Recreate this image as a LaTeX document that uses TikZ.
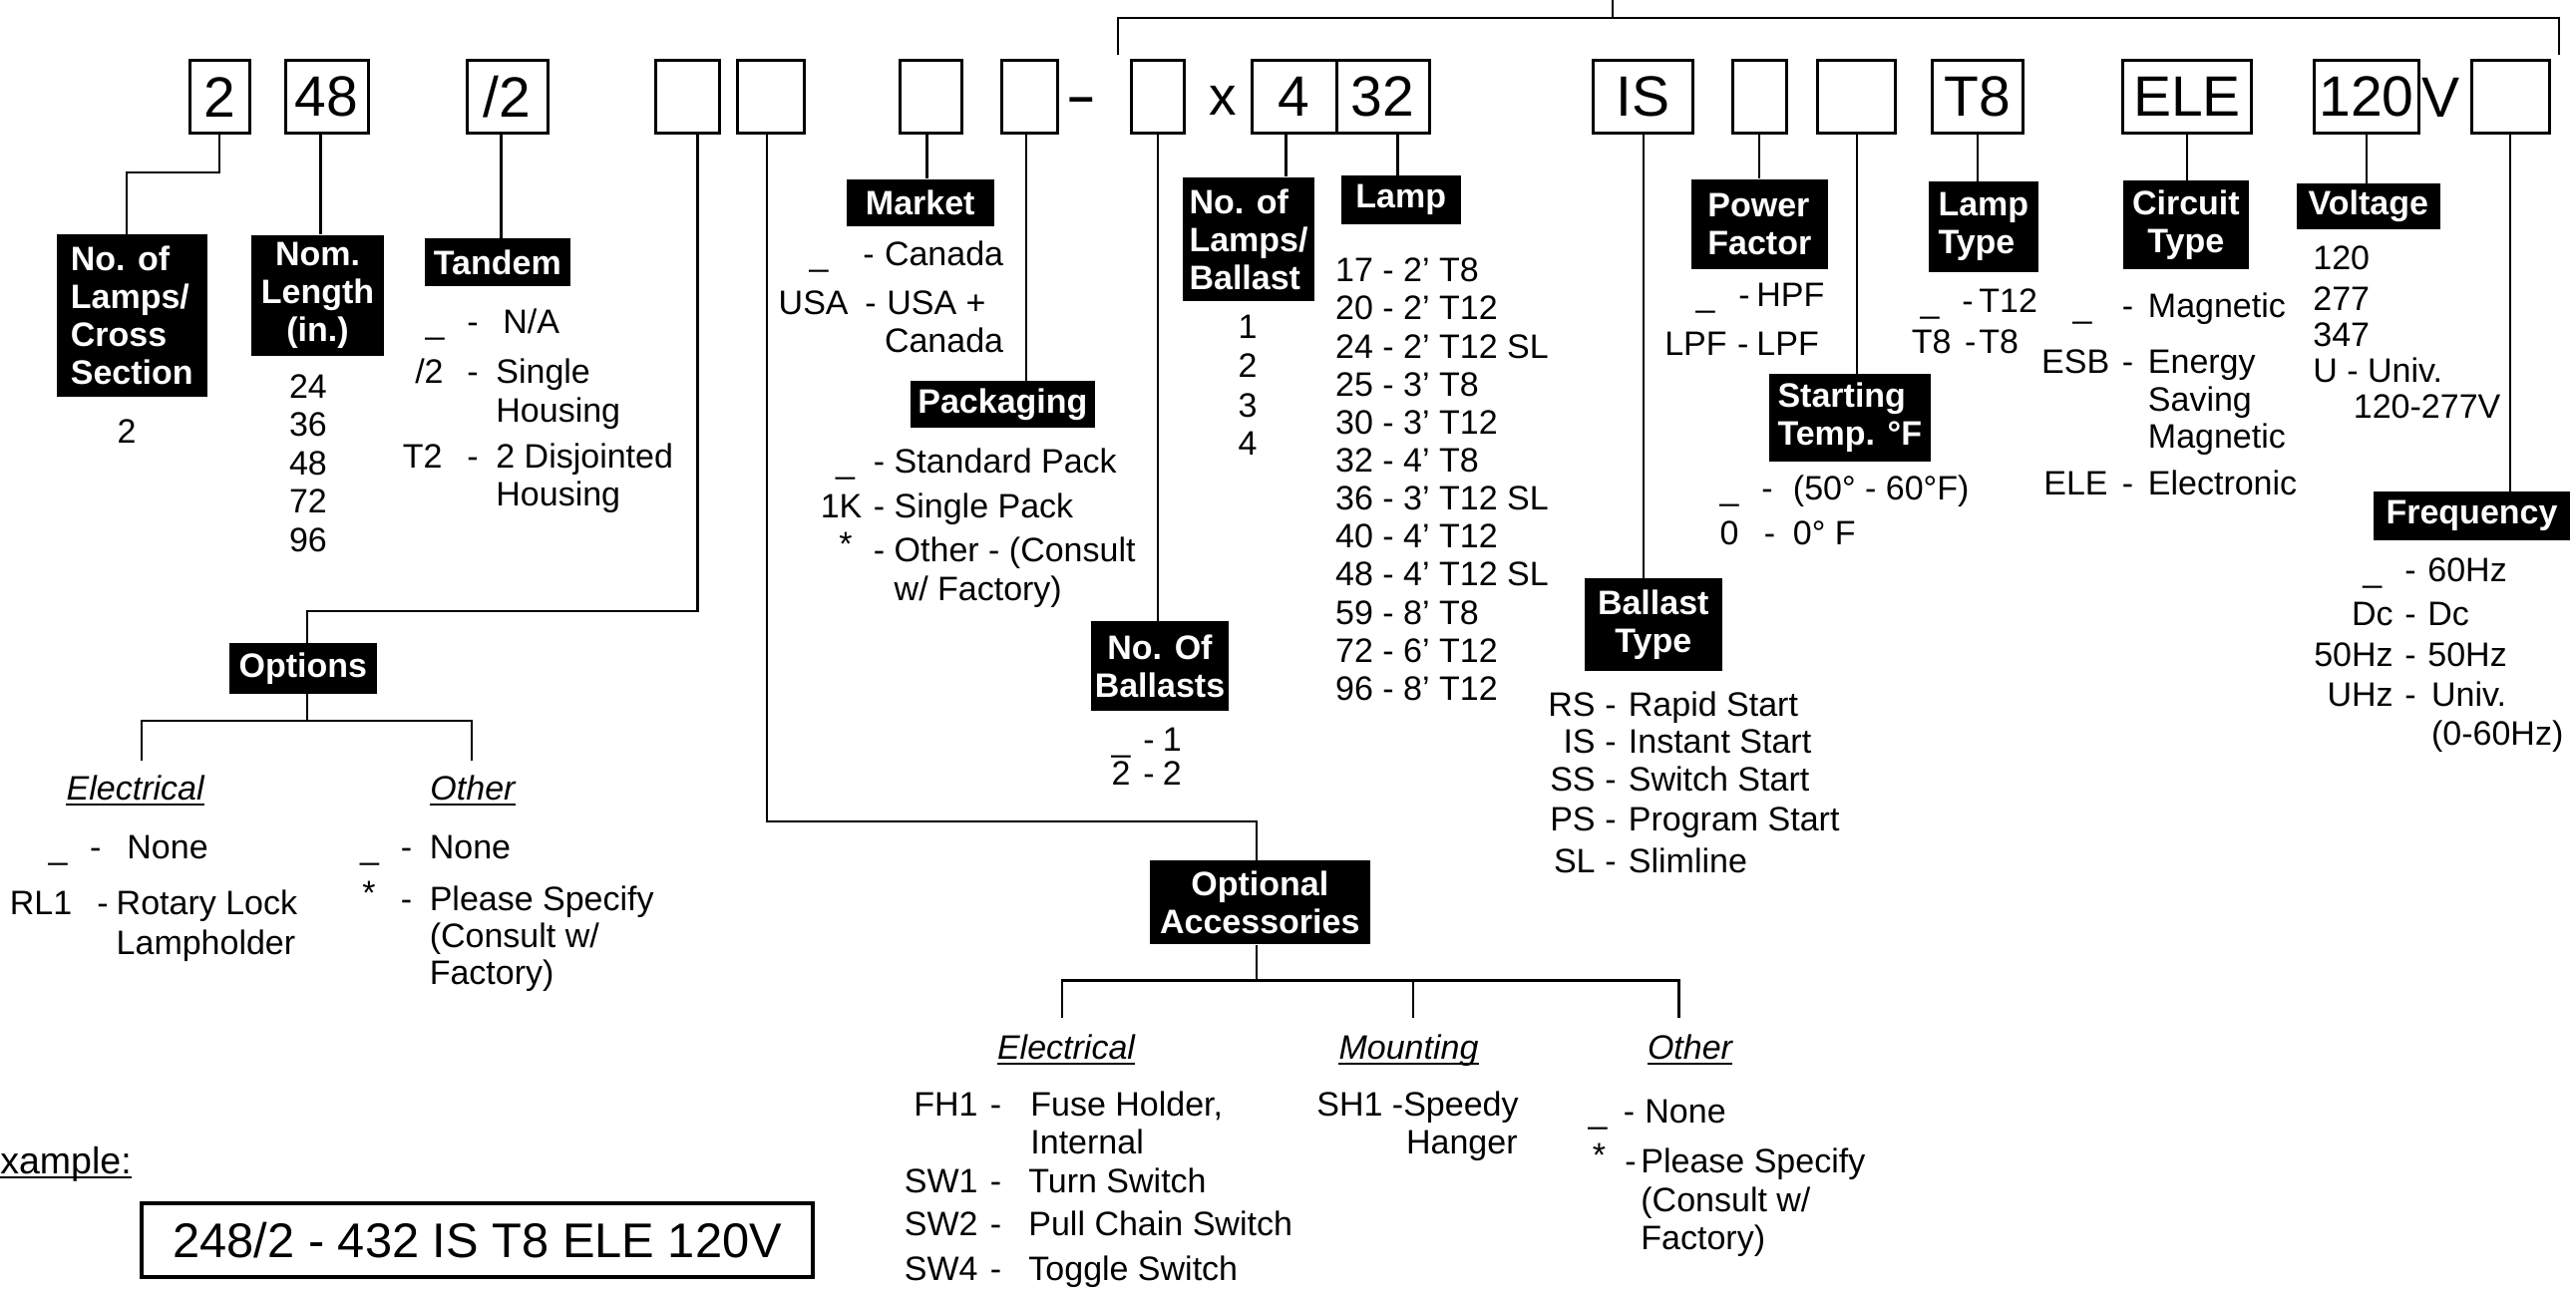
\documentclass[tikz,border=0pt]{standalone}
\usepackage{fontspec}
\setmainfont{Liberation Sans}
\newcommand\bodyf{\fontsize{17}{19}\selectfont}
\newcommand\codef{\fontsize{28.5}{30}\selectfont}
\newcommand\exf{\fontsize{24.4}{28}\selectfont}
\newcommand\hdrf{\fontsize{17}{19}\selectfont\bfseries}
% list row: name, code right x, dash x, text x, baseline y, code, text
\newcommand\lrow[7]{%
  \node[lt,anchor=base east] (#1c) at (#2,#5) {#6};
  \node[lt,anchor=base west] (#1d) at (#3,#5) {-};
  \node[lt,anchor=base west] (#1t) at (#4,#5) {#7};}
\newcommand\lcont[4]{\node[lt,anchor=base west] (#1) at (#2,#3) {#4};}
\begin{document}
\begin{tikzpicture}[x=0.5pt,y=-0.5pt,
  cbox/.style={draw,line width=1.5pt,inner sep=0,font=\codef,minimum height=36.65pt,minimum width=#1*0.5pt},
  hdr/.style 2 args={fill=black,text=white,font=\hdrf,inner sep=0,minimum width=#1*0.5pt,minimum height=#2*0.5pt},
  lt/.style={font=\bodyf,inner sep=0},
  sub/.style={font=\bodyf\itshape,inner sep=0,anchor=base},
  ln/.style={line width=1.1pt},
  ul/.style={line width=1pt}]
\useasboundingbox (0,0) rectangle (2583,1299);

% ---------- code boxes ----------
\node[cbox=60]    (b2)   at (220,97.35)    {2};
\node[cbox=83]    (b48)  at (327.5,97.35)  {48};
\node[cbox=81]    (bsl)  at (508.5,97.35)  {/2};
\node[cbox=64]    (bA)   at (689,97.35)    {};
\node[cbox=67.6]  (bB)   at (772.8,97.35)  {};
\node[cbox=61.6]  (bC)   at (933.4,97.35)  {};
\node[cbox=56]    (bD)   at (1032,97.35)   {};
\node[font=\fontsize{23}{24}\selectfont\bfseries,inner sep=0,anchor=base] (dsh) at (1084.75,112.7) {\textendash};
\node[cbox=53.6]  (bE)   at (1160.8,97.35) {};
\node[font=\fontsize{27.5}{29}\selectfont,inner sep=0,anchor=base] (xx) at (1226,116) {x};
\node[cbox=85]    (b4)   at (1297.5,97.35) {4};
\node[cbox=93]    (b32)  at (1386.5,97.35) {32};
\node[cbox=99.8]  (bIS)  at (1647.7,97.35) {IS};
\node[cbox=54.7]  (bF)   at (1764.35,97.35) {};
\node[cbox=78]    (bG)   at (1861.7,97.35) {};
\node[cbox=91.7]  (bT8)  at (1982.85,97.35) {T8};
\node[cbox=128.3] (bELE) at (2192.85,97.35) {ELE};
\node[cbox=105.7] (b120) at (2372.85,97.35) {120};
\node[font=\codef,inner sep=0,anchor=base] (vv) at (2447.5,118) {V};
\node[cbox=77.6]  (bH)   at (2517.2,97.35) {};

% ---------- top bracket ----------
\coordinate (t1) at (1120.7,55.4);
\coordinate (t2) at (2566,55.4);
\coordinate (t3) at (1617,17.9);
\coordinate (t0) at (1617,-5);
\draw[ln] (t1) |- (t3) -| (t2);
\draw[ln] (t0) -- (t3);

% ---------- headers ----------
\node[hdr={150.5}{163},align=left]    (h1)  at (132.25,316.5)  {No. of\\Lamps/\\Cross\\Section};
\node[hdr={133}{121.3},align=center]  (h2)  at (318.5,296.35)  {Nom.\\Length\\(in.)};
\node[hdr={146.4}{48.5}]              (h3)  at (498.8,263.25)  {Tandem};
\node[hdr={147.9}{47.2}]              (h4)  at (922.75,203.2)  {Market};
\node[hdr={184.2}{46.6}]              (h5)  at (1005.4,405.3)  {Packaging};
\node[hdr={138.7}{90},align=center]   (h6)  at (1162.95,668.3) {No. Of\\Ballasts};
\node[hdr={132.7}{124.1},align=left]  (h7)  at (1252.05,239.95) {No. of\\Lamps/\\Ballast};
\node[hdr={119.5}{49.4}]              (h8)  at (1404.75,200.7) {Lamp};
\node[hdr={138.1}{92.7},align=center] (h9)  at (1657.75,626.35) {Ballast\\Type};
\node[hdr={137.2}{90},align=left]     (h10) at (1764.3,224.6)  {Power\\Factor};
\node[hdr={161.6}{88},align=left]     (h11) at (1854.8,419)    {Starting\\Temp. °F};
\node[hdr={109.7}{91},align=left]     (h12) at (1988.85,227.5) {Lamp\\Type};
\node[hdr={126.3}{89},align=center]   (h13) at (2191.85,225.9) {Circuit\\Type};
\node[hdr={143.7}{46.4}]              (h14) at (2374.75,207.2) {Voltage};
\node[hdr={197.8}{48.4}]              (h15) at (2478.5,517.5)  {Frequency};
\node[hdr={148.2}{51}]                (h16) at (303.9,670.5)   {Options};
\node[hdr={220.5}{84.4},align=center] (h17) at (1263.25,905.2) {Optional\\Accessories};

% ---------- connectors ----------
\coordinate (k1) at (127,173);
\draw[ln] (b2.south) |- (k1) -- (k1 |- h1.north);
\draw[ln] ([xshift=-3pt]b48.south) -- ([xshift=-3pt]b48.south |- h2.north);
\draw[ln] ([xshift=-3pt]bsl.south) -- ([xshift=-3pt]bsl.south |- h3.north);
\draw[ln] ([xshift=-2pt]bC.south) -- ([xshift=-2pt]bC.south |- h4.north);
\draw[ln] ([xshift=-1.7pt]bD.south) -- ([xshift=-1.7pt]bD.south |- h5.north);
\draw[ln] (bE.south) -- (bE.south |- h6.north);
\draw[ln] ([xshift=-4pt]b4.south) -- ([xshift=-4pt]b4.south |- h7.north);
\draw[ln] ([xshift=7.45pt]b32.south) -- ([xshift=7.45pt]b32.south |- h8.north);
\draw[ln] (bIS.south) -- (bIS.south |- h9.north);
\draw[ln] (bF.south) -- (bF.south |- h10.north);
\draw[ln] (bG.south) -- (bG.south |- h11.north);
\draw[ln] (bT8.south) -- (bT8.south |- h12.north);
\draw[ln] (bELE.south) -- (bELE.south |- h13.north);
\draw[ln] (b120.south) -- (b120.south |- h14.north);
\draw[ln] (bH.south) -- (bH.south |- h15.north);

% options tree
\coordinate (kA) at (307.8,612.7);
\draw[ln] ([xshift=5.25pt]bA.south) |- (kA) -- (kA |- h16.north);
\coordinate (oT) at (307.8,722.7);
\coordinate (oLb) at (142,763);
\coordinate (oRb) at (473,763);
\draw[ln] (kA |- h16.south) -- (oT);
\draw[ln] (oLb) |- (oT) -| (oRb);

% optional accessories tree
\coordinate (kB) at (1260.3,823.6);
\draw[ln] ([xshift=-1.75pt]bB.south) |- (kB) -- (kB |- h17.north);
\coordinate (aT) at (1260.3,983.4);
\coordinate (aL) at (1065,1021);
\coordinate (aM) at (1417,1021);
\coordinate (aR) at (1683.4,1021);
\draw[ln] (aT |- h17.south) -- (aT);
\draw[ln] (aL) |- (aT) -| (aR);
\draw[ln] (aM) -- (aM |- aT);

% ---------- lists ----------
\node[lt,anchor=base] (cs2) at (127,444) {2};

\foreach \t/\yy in {24/399.5,36/437,48/476,72/514,96/553}
  \node[lt,anchor=base] (nl\t) at (309,\yy) {\t};

\lrow{tdA}{446}{468}{504}{335}{\_}{N/A}
\lrow{tdB}{445}{468}{497}{385}{/2}{Single}
\lcont{tdBb}{497}{423}{Housing}
\lrow{tdC}{444}{468}{497}{469}{T2}{2 Disjointed}
\lcont{tdCb}{497}{507}{Housing}

\lrow{mkA}{831}{865}{886.6}{267}{\_}{Canada}
\lrow{mkB}{851}{867}{889}{315}{USA}{USA +}
\lcont{mkBb}{886.6}{354}{Canada}

\lrow{pkA}{857.5}{875.5}{896.3}{474.5}{\_}{Standard Pack}
\lrow{pkB}{864.8}{875.5}{896.3}{519}{1K}{Single Pack}
\lrow{pkC}{855}{875.5}{896.3}{563}{\raisebox{3pt}{*}}{Other - (Consult}
\lcont{pkCb}{896.3}{602}{w/ Factory)}

\lrow{nbA}{1134}{1146}{1165.4}{753.7}{\_}{1}
\lrow{nbB}{1134}{1146}{1165.4}{787}{2}{2}

\foreach \t/\yy in {1/340,2/379,3/418.4,4/456}
  \node[lt,anchor=base] (nlb\t) at (1251,\yy) {\t};

\foreach \t [count=\i] in {17 - 2' T8,20 - 2' T12,24 - 2' T12 SL,25 - 3' T8,30 - 3' T12,32 - 4' T8,36 - 3' T12 SL,40 - 4' T12,48 - 4' T12 SL,59 - 8' T8,72 - 6' T12,96 - 8' T12}
  \node[lt,anchor=base west] (lp\i) at (1338.8,{282.7+38.15*(\i-1)}) {\t};

\lrow{btA}{1600}{1609}{1632.5}{718.7}{RS}{Rapid Start}
\lrow{btB}{1600}{1609}{1632.5}{755}{IS}{Instant Start}
\lrow{btC}{1600}{1609}{1632.5}{793.7}{SS}{Switch Start}
\lrow{btD}{1600}{1609}{1632.5}{833.7}{PS}{Program Start}
\lrow{btE}{1600}{1609}{1632.5}{875.3}{SL}{Slimline}

\lrow{pfA}{1720}{1743}{1761}{307}{\_}{HPF}
\lrow{pfB}{1732}{1741.7}{1761}{356.6}{LPF}{LPF}

\lrow{stA}{1744}{1766}{1797.5}{501}{\_}{(50° - 60°F)}
\lrow{stB}{1744}{1768.4}{1797.5}{546}{0}{0° F}

\lrow{ltA}{1945}{1967}{1984}{313.8}{\_}{T12}
\lrow{ltB}{1957}{1969.6}{1984}{355}{T8}{T8}

\lrow{ctA}{2098}{2127.4}{2153.5}{319}{\_}{Magnetic}
\lrow{ctB}{2115.6}{2127.4}{2153.5}{374.5}{ESB}{Energy}
\lcont{ctBb}{2153.5}{412}{Saving}
\lcont{ctBc}{2153.5}{449.5}{Magnetic}
\lrow{ctC}{2114}{2127.4}{2153.5}{496}{ELE}{Electronic}

\node[lt,anchor=base west] (vo1) at (2319,271) {120};
\node[lt,anchor=base west] (vo2) at (2319,312) {277};
\node[lt,anchor=base west] (vo3) at (2319,347.7) {347};
\node[lt,anchor=base west] (vo4) at (2319,383.4) {U - Univ.};
\node[lt,anchor=base west] (vo5) at (2359.5,419) {120-277V};

\lrow{fqA}{2388.7}{2411}{2434}{583.7}{\_}{60Hz}
\lrow{fqB}{2400}{2411}{2434}{627}{Dc}{Dc}
\lrow{fqC}{2400}{2411}{2434}{668.7}{50Hz}{50Hz}
\lrow{fqD}{2400}{2411}{2437.7}{708.7}{UHz}{Univ.}
\lcont{fqDb}{2437.7}{747}{(0-60Hz)}

% options lists
\node[sub] (se1) at (135.7,802) {Electrical};
\node[sub] (so1) at (474,802) {Other};
\draw[ul] ([yshift=-2.3pt]se1.base west) -- ([yshift=-2.3pt]se1.base east);
\draw[ul] ([yshift=-2.3pt]so1.base west) -- ([yshift=-2.3pt]so1.base east);
\lrow{oeA}{68}{89.7}{127}{861}{\_}{None}
\lrow{oeB}{72.7}{97}{116.3}{917}{RL1}{Rotary Lock}
\lcont{oeBb}{116.3}{957}{Lampholder}
\lrow{ooA}{380.5}{401.4}{430.4}{861}{\_}{None}
\lrow{ooB}{377}{401.4}{430.4}{913}{\raisebox{3pt}{*}}{Please Specify}
\lcont{ooBb}{430.4}{950}{(Consult w/}
\lcont{ooBc}{430.4}{987}{Factory)}

% optional accessories lists
\node[sub] (se2) at (1069,1062.5) {Electrical};
\node[sub] (sm2) at (1412.5,1062.5) {Mounting};
\node[sub] (so2) at (1694.5,1062.5) {Other};
\draw[ul] ([yshift=-2.3pt]se2.base west) -- ([yshift=-2.3pt]se2.base east);
\draw[ul] ([yshift=-2.3pt]sm2.base west) -- ([yshift=-2.3pt]sm2.base east);
\draw[ul] ([yshift=-2.3pt]so2.base west) -- ([yshift=-2.3pt]so2.base east);
\lrow{aeA}{981}{992.5}{1033}{1119}{FH1}{Fuse Holder,}
\lcont{aeAb}{1033}{1157}{Internal}
\lrow{aeB}{981}{992.5}{1031}{1196.5}{SW1}{Turn Switch}
\lrow{aeC}{981}{992.5}{1031}{1239.5}{SW2}{Pull Chain Switch}
\lrow{aeD}{981}{992.5}{1031}{1284}{SW4}{Toggle Switch}
\node[lt,anchor=base west] (amA) at (1320,1119) {SH1 -Speedy};
\node[lt,anchor=base east] (amB) at (1522,1157) {Hanger};
\lrow{aoA}{1612}{1627.5}{1649}{1126}{\_}{None}
\lrow{aoB}{1610.6}{1629}{1645}{1176}{\raisebox{3pt}{*}}{Please Specify}
\lcont{aoBb}{1645}{1215.5}{(Consult w/}
\lcont{aoBc}{1645}{1253}{Factory)}

% ---------- example ----------
\node[font=\fontsize{18.75}{21}\selectfont,inner sep=0,anchor=base west] (exl) at (0,1177) {xample:};
\draw[ul] ([yshift=-2.2pt]exl.base west) -- ([yshift=-2.2pt]exl.base east);
\node[draw,line width=2pt,inner sep=0,font=\exf,minimum width=336.3pt,minimum height=36.85pt] (ex) at (478.7,1243.85) {248/2 - 432 IS T8 ELE 120V};
\end{tikzpicture}
\end{document}
